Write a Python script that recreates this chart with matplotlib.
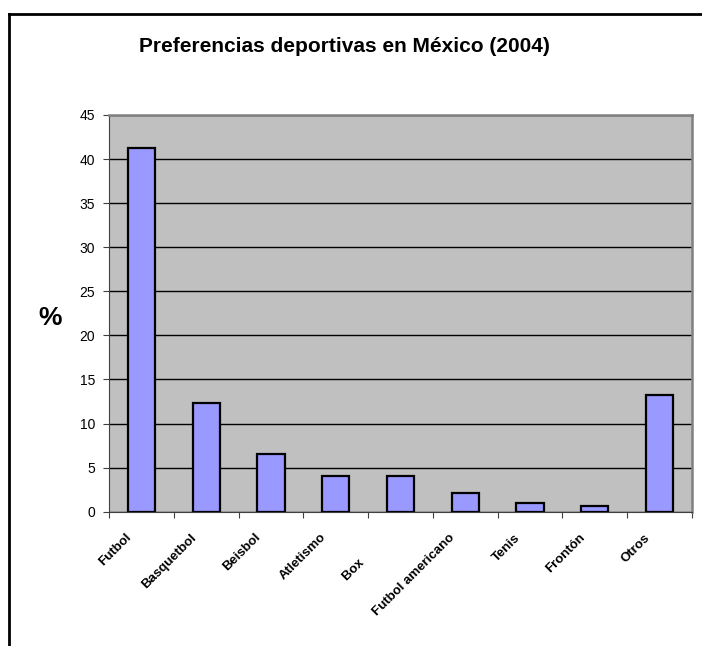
import matplotlib.pyplot as plt
import matplotlib.transforms as mtransforms
from matplotlib.lines import Line2D
import numpy as np

plt.rcParams["font.family"] = ["Liberation Sans", "DejaVu Sans"]

# Data
deportes = ["Futbol", "Basquetbol", "Beisbol", "Atletismo", "Box" + " " * 10,
            "Futbol americano", "Tenis", "Frontón", "Otros"]
porcentajes = [41.2, 12.3, 6.6, 4.1, 4.1, 2.1, 0.95, 0.7, 13.2]
y_ticks = [0, 5, 10, 15, 20, 25, 30, 35, 40, 45]

fig = plt.figure(figsize=(7.02, 6.46), dpi=100)
ax = fig.add_axes([0.1553, 0.2079, 0.8305, 0.6141])

x_pos = np.arange(len(deportes))
ax.set_facecolor("#C0C0C0")
ax.yaxis.grid(True, color="black", linewidth=1.0, zorder=1)
ax.set_axisbelow(True)
ax.bar(x_pos, porcentajes, width=0.42, color="#9999FF",
       edgecolor="black", linewidth=1.6, zorder=3)

ax.set_xlim(-0.5, len(deportes) - 0.5)
ax.set_ylim(0, 45)
ax.set_yticks(y_ticks)
ax.tick_params(axis="y", labelsize=10, length=4, direction="out", pad=6,
               color="#404040")

# ticks between categories, labels at category centers
ax.set_xticks(np.arange(len(deportes) + 1) - 0.5)
ax.set_xticklabels([])
ax.tick_params(axis="x", length=4, direction="out", color="#404040")
offset = mtransforms.ScaledTranslation(-12 / 100, -24 / 100, fig.dpi_scale_trans)
for x, name in zip(x_pos, deportes):
    ax.text(x, 0, name, transform=ax.get_xaxis_transform() + offset,
            rotation=45, rotation_mode="anchor", ha="right", va="center",
            fontsize=9.5, fontweight="bold")

for side in ["top", "right"]:
    ax.spines[side].set_color("#808080")
    ax.spines[side].set_linewidth(1.8)
ax.spines["left"].set_color("#404040")
ax.spines["bottom"].set_color("#404040")

fig.text(50 / 702, 1 - 318 / 646, "%", fontsize=19, fontweight="bold",
         ha="center", va="center")
fig.text(0.4907, 1 - 52 / 646, "Preferencias deportivas en México (2004)",
         ha="center", va="baseline", fontsize=15, fontweight="bold")

# outer chart frame (cropped on the right and bottom)
fig.add_artist(Line2D([9 / 702, 9 / 702], [0, 1 - 14 / 646],
                      transform=fig.transFigure, color="black", linewidth=2))
fig.add_artist(Line2D([9 / 702, 1], [1 - 14 / 646, 1 - 14 / 646],
                      transform=fig.transFigure, color="black", linewidth=2))

fig.savefig("out.png", dpi=100)
